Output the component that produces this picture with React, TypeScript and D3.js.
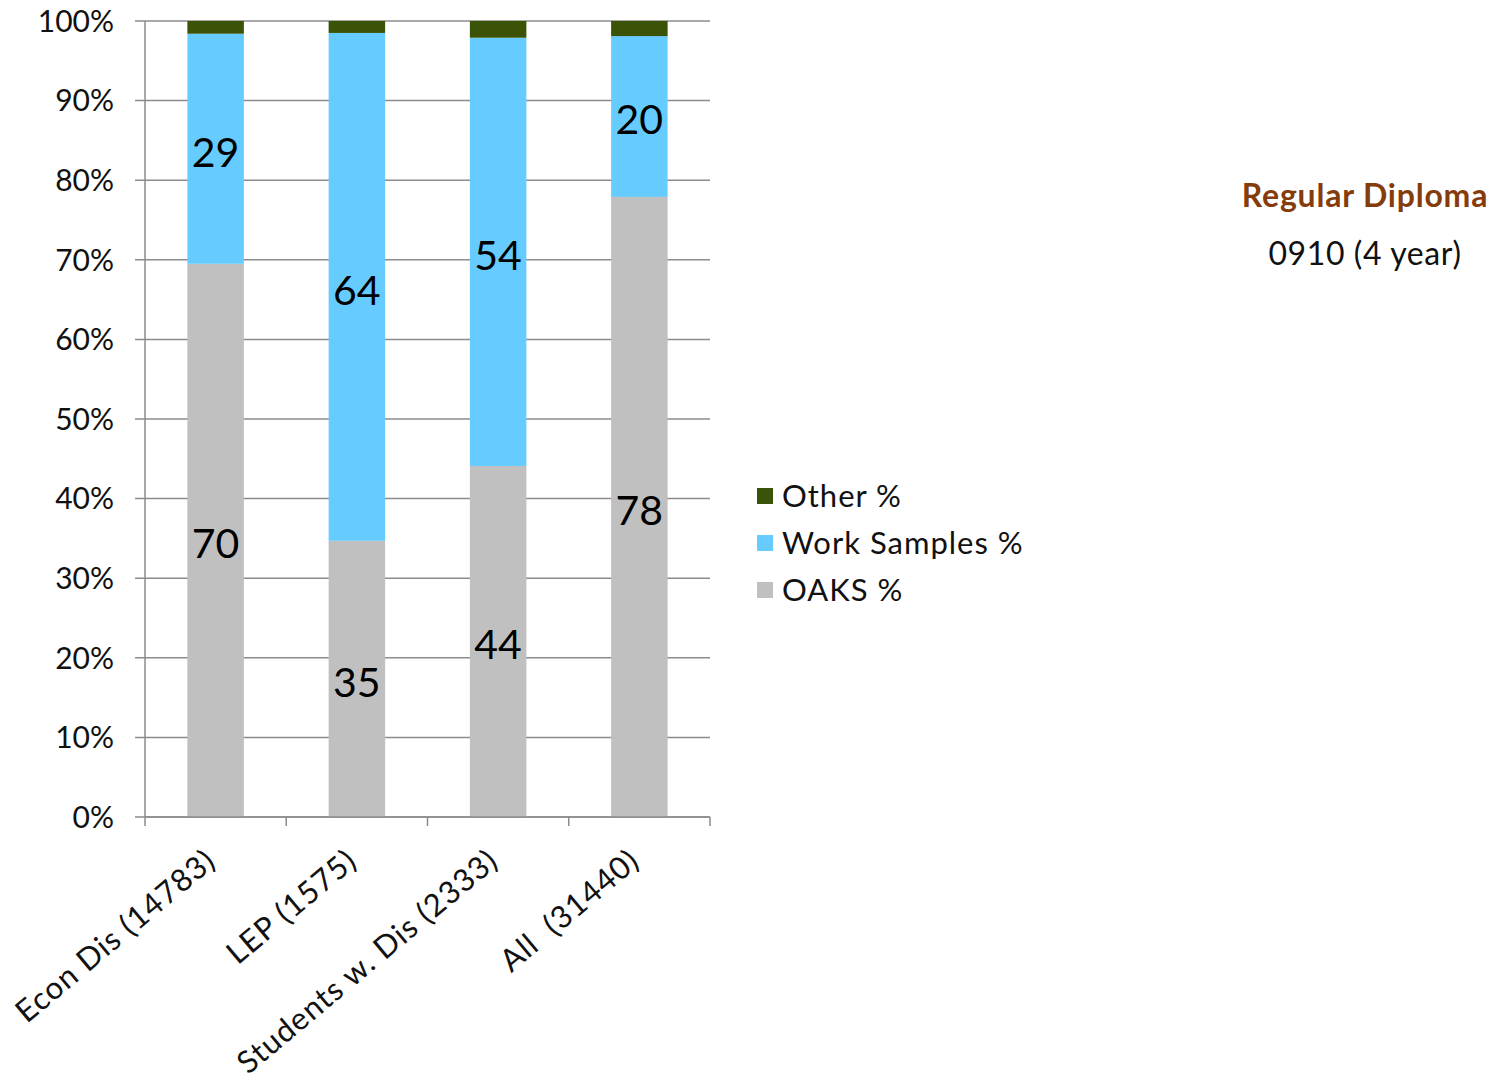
import React from "react";
import * as d3 from "d3";

const categories = ["Econ Dis (14783)", "LEP (1575)", "Students w. Dis (2333)", "All  (31440)"];
const oaks = [69.5, 34.7, 44.1, 77.9];
const workSamples = [28.9, 63.8, 53.8, 20.2];
const other = [1.6, 1.5, 2.1, 1.9];
const yTicks = [0, 10, 20, 30, 40, 50, 60, 70, 80, 90, 100];
const seriesNames = ["OAKS %", "Work Samples %", "Other %"];
const seriesColors = ["#C0C0C0", "#66CCFF", "#3B5306"];
const title = "Regular Diploma";
const subtitle = "0910 (4 year)";

const FONT = "Lato, 'DejaVu Sans', sans-serif";

export default function App() {
  const W = 1501, H = 1080;
  const left = 145, right = 710, top = 21, bottom = 817;
  const x = d3.scaleBand().domain(categories).range([left, right]).paddingInner(0.6).paddingOuter(0.3);
  const y = d3.scaleLinear().domain([0, 100]).range([bottom, top]);
  const bandStep = (right - left) / categories.length;

  const rows = categories.map((c, i) => ({ cat: c, s0: oaks[i], s1: workSamples[i], s2: other[i] }));
  const stack = d3.stack<any>().keys(["s0", "s1", "s2"]);
  const stacked = stack(rows);

  return (
    <svg width={W} height={H} style={{ position: "absolute", left: 0, top: 0, background: "#fff" }}>
      {yTicks.map((t) => (
        <g key={t}>
          <line x1={left - 10} x2={right} y1={y(t)} y2={y(t)} stroke="#8C8C8C" strokeWidth={1.5} />
          <text x={114} y={y(t)} dy="0.36em" textAnchor="end" fontFamily={FONT} fontSize={30} fill="#111">
            {t}%
          </text>
        </g>
      ))}
      <line x1={left} x2={left} y1={top} y2={bottom} stroke="#8C8C8C" strokeWidth={1.5} />
      {stacked.map((layer, li) =>
        layer.map((d, i) => (
          <rect
            key={`${li}-${i}`}
            x={x(categories[i])!}
            width={x.bandwidth()}
            y={y(d[1])}
            height={y(d[0]) - y(d[1])}
            fill={seriesColors[li]}
          />
        ))
      )}
      {stacked.slice(0, 2).map((layer, li) =>
        layer.map((d, i) => (
          <text
            key={`l${li}-${i}`}
            x={x(categories[i])! + x.bandwidth() / 2}
            y={(y(d[0]) + y(d[1])) / 2 + 3}
            dy="0.36em"
            textAnchor="middle"
            fontFamily={FONT}
            fontSize={41}
            fill="#000"
          >
            {Math.round(d[1] - d[0])}
          </text>
        ))
      )}
      <line x1={left} x2={right} y1={bottom} y2={bottom} stroke="#8C8C8C" strokeWidth={1.5} />
      {d3.range(categories.length + 1).map((k) => (
        <line key={k} x1={left + k * bandStep} x2={left + k * bandStep} y1={bottom} y2={bottom + 9} stroke="#8C8C8C" strokeWidth={1.5} />
      ))}
      {categories.map((c) => {
        const cx = x(c)! + x.bandwidth() / 2 + 2;
        const cy = bottom + 47;
        return (
          <text
            key={c}
            transform={`translate(${cx},${cy}) rotate(-40)`}
            textAnchor="end"
            fontFamily={FONT}
            fontSize={31}
            letterSpacing={1}
            fill="#111"
            style={{ whiteSpace: "pre" }}
          >
            {c}
          </text>
        );
      })}
      {[2, 1, 0].map((si, k) => (
        <g key={si} transform={`translate(757,${488 + k * 47})`}>
          <rect width={16} height={16} fill={seriesColors[si]} />
          <text x={25} y={8} dy="0.36em" fontFamily={FONT} fontSize={31} letterSpacing={1} fill="#111">
            {seriesNames[si]}
          </text>
        </g>
      ))}
      <text x={1365} y={195} dy="0.36em" textAnchor="middle" fontFamily={FONT} fontSize={32} letterSpacing={0.8} fontWeight="bold" fill="#843C0C">
        {title}
      </text>
      <text x={1365} y={253} dy="0.36em" textAnchor="middle" fontFamily={FONT} fontSize={32} letterSpacing={0.6} fill="#111">
        {subtitle}
      </text>
    </svg>
  );
}
